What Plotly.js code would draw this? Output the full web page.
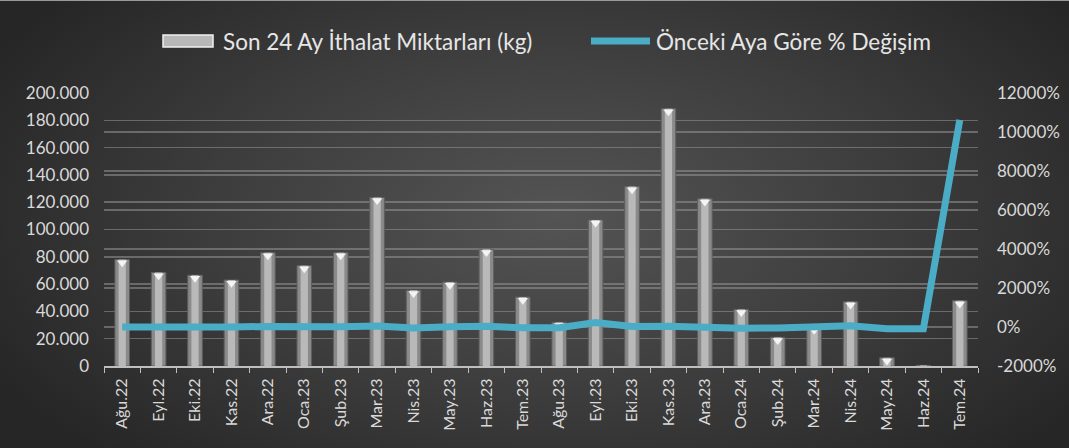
<!DOCTYPE html>
<html>
<head>
<meta charset="utf-8">
<script src="https://cdn.plot.ly/plotly-3.0.1.min.js"></script>
<style>
html,body{margin:0;padding:0;}
#wrap{width:1069px;height:448px;background:radial-gradient(ellipse 60% 75% at 52% 48%, #545454 0%, #3c3c3c 55%, #262626 100%);border-top:1px solid #9a9a9a;box-sizing:border-box;}
#chart{width:1069px;height:447px;}
</style>
</head>
<body>
<div id="wrap"><div id="chart"></div></div>
<script>
const months = ["Ağu.22","Eyl.22","Eki.22","Kas.22","Ara.22","Oca.23","Şub.23","Mar.23","Nis.23","May.23","Haz.23","Tem.23","Ağu.23","Eyl.23","Eki.23","Kas.23","Ara.23","Oca.24","Şub.24","Mar.24","Nis.24","May.24","Haz.24","Tem.24"];
const imports = [78000,68500,66500,63000,83000,73500,83000,123500,55500,61500,85500,50500,32000,107000,131500,188500,122500,41500,21000,28500,47000,6000,450,47800];
const pctChange = [5,-12,-3,-5,32,-11,13,49,-55,11,39,-41,-37,234,23,43,-35,-66,-49,36,65,-87,-93,10622];
const leftTicks = [0,20000,40000,60000,80000,100000,120000,140000,160000,180000,200000];
const rightTicks = [-2000,0,2000,4000,6000,8000,10000,12000];
const rightTickText = ["-2000%","0%","2000%","4000%","6000%","8000%","10000%","12000%"];
const barLabel = "Son 24 Ay İthalat Miktarları (kg)";
const lineLabel = "Önceki Aya Göre % Değişim";

const font = "Lato, sans-serif";
const capOffset = 2300;
const caps = imports.map(v => v - capOffset);

const traces = [
  {type:"bar", name:barLabel, x:months, y:imports, width:0.4,
   marker:{color:"#8a8a8a", line:{color:"#5e5e5e", width:1}}},
  {type:"bar", x:months, y:imports, width:0.2, hoverinfo:"skip",
   marker:{color:"#b9b9b9", line:{width:0}}},
  {type:"scatter", mode:"markers", x:months, y:caps, hoverinfo:"skip",
   marker:{symbol:"triangle-down", size:9, color:"#f4f4f4", line:{width:0}}},
  {type:"scatter", mode:"lines", name:lineLabel, x:months, y:pctChange, yaxis:"y2",
   line:{color:"#4bacc6", width:7}}
];

const L = 104, W = 874, T = 92, H = 273;
const px = v => (v - L) / W;
const py = v => (T + H - v) / H;

const layout = {
  width:1069, height:447,
  paper_bgcolor:"rgba(0,0,0,0)", plot_bgcolor:"rgba(0,0,0,0)",
  margin:{l:104, r:91, t:92, b:82},
  separators:",.",
  font:{family:font, color:"#d9d9d9", size:17},
  barmode:"overlay",
  showlegend:false,
  xaxis:{type:"category", range:[-0.5,23.5], tickangle:-90, tickfont:{size:16, color:"#d9d9d9"},
         showline:true, linecolor:"#bfbfbf", linewidth:2, ticks:"outside",
         tickson:"boundaries", ticklen:5, tickcolor:"#bfbfbf", showgrid:false,
         automargin:false, ticklabelstandoff:4},
  yaxis:{range:[0,200000], tickmode:"array", tickvals:leftTicks,
         tickformat:",d", showgrid:true, gridcolor:"rgba(150,150,150,0.55)", gridwidth:1.5,
         zeroline:false, ticks:"", tickfont:{size:17, color:"#d9d9d9"}, automargin:false,
         ticklabelstandoff:14},
  yaxis2:{overlaying:"y", side:"right", range:[-2000,12000], tickmode:"array",
          tickvals:rightTicks, ticktext:rightTickText,
          showgrid:true, gridcolor:"rgba(150,150,150,0.55)", gridwidth:1.5, zeroline:false,
          tickfont:{size:17, color:"#d9d9d9"}, automargin:false, ticklabelstandoff:18},
  shapes:[
    {type:"rect", xref:"paper", yref:"paper", x0:px(163), x1:px(213), y0:py(46), y1:py(34),
     fillcolor:"#b8b8b8", line:{color:"#efefef", width:1.5}},
    {type:"line", xref:"paper", yref:"paper", x0:px(591), x1:px(650), y0:py(40), y1:py(40),
     line:{color:"#4bacc6", width:7}}
  ],
  annotations:[
    {xref:"paper", yref:"paper", x:px(221), y:py(40), xanchor:"left", yanchor:"middle",
     text:barLabel, showarrow:false, font:{size:22.5, color:"#e6e6e6", family:font}},
    {xref:"paper", yref:"paper", x:px(654), y:py(40), xanchor:"left", yanchor:"middle",
     text:lineLabel, showarrow:false, font:{size:22.5, color:"#e6e6e6", family:font}}
  ]
};

Plotly.newPlot("chart", traces, layout, {displayModeBar:false, staticPlot:true});
</script>
</body>
</html>
